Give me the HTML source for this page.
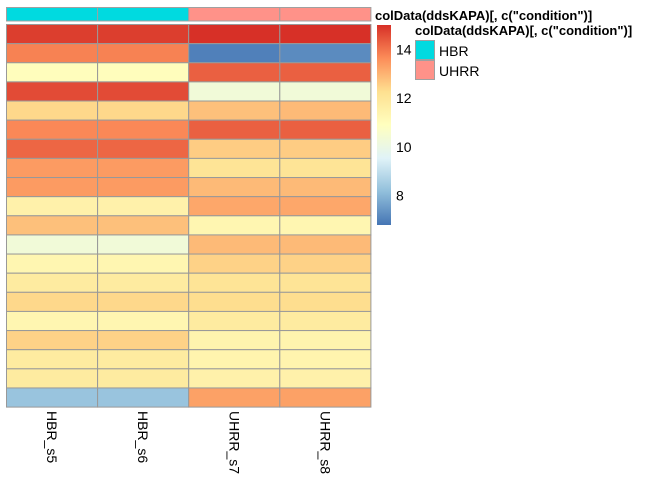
<!DOCTYPE html>
<html><head><meta charset="utf-8"><style>
body{margin:0;background:#fff;}
svg text{font-family:"Liberation Sans",sans-serif;}
</style></head><body>
<svg id="chart" width="672" height="480"></svg>
<script>
const samples = ["HBR_s5","HBR_s6","UHRR_s7","UHRR_s8"];
const conditions = ["HBR","HBR","UHRR","UHRR"];
const hbr5 = [14.8,13.8,11.0,14.6,12.4,13.7,14.2,13.4,13.4,11.5,12.8,10.3,11.3,11.8,12.4,11.3,12.5,11.8,11.8,8.3];
const hbr6 = [14.8,13.8,11.0,14.6,12.4,13.7,14.2,13.4,13.4,11.5,12.8,10.3,11.3,11.8,12.4,11.3,12.5,11.8,11.8,8.3];
const uhrr7 = [15.0,7.0,14.3,10.3,12.8,14.3,12.6,12.1,12.9,13.2,11.3,12.9,12.5,12.1,12.3,11.8,11.4,11.4,11.5,13.3];
const uhrr8 = [15.0,7.2,14.3,10.3,12.9,14.3,12.6,12.1,12.9,13.2,11.3,12.9,12.5,12.1,12.3,11.8,11.4,11.4,11.5,13.3];
const scaleTicks = [8,10,12,14];
const condColors = {HBR:"#00DAE0", UHRR:"#FF9289"};
const series = [hbr5,hbr6,uhrr7,uhrr8];
const vmin = 6.8, vmax = 15.0;
const stops = ["#4575B4","#91BFDB","#E0F3F8","#FFFFBF","#FEE090","#FC8D59","#D73027"];
function hex(c){return [1,3,5].map(i=>parseInt(c.substr(i,2),16));}
function colorOf(v){
  let t=(v-vmin)/(vmax-vmin); t=Math.max(0,Math.min(1,t))*(stops.length-1);
  let i=Math.min(Math.floor(t),stops.length-2), f=t-i;
  let a=hex(stops[i]), b=hex(stops[i+1]);
  return "rgb("+a.map((x,k)=>Math.round(x+(b[k]-x)*f)).join(",")+")";
}
const NS="http://www.w3.org/2000/svg";
const svg=document.getElementById("chart");
function el(tag,attrs,parent){const e=document.createElementNS(NS,tag);for(const k in attrs)e.setAttribute(k,attrs[k]);(parent||svg).appendChild(e);return e;}
const x0=6.5, cw=91.1, y0=24.5, rh=19.13;
const xPos=j=>x0+j*cw, yPos=i=>y0+i*rh;
samples.forEach((s,j)=>{
  const r=el("rect",{x:xPos(j),y:7.5,width:cw,height:13.5,fill:condColors[conditions[j]],stroke:"#a0a0a0","stroke-width":1});
  
  
});
series.forEach((arr,j)=>{
  arr.forEach((v,i)=>{
    const r=el("rect",{x:xPos(j),y:yPos(i),width:cw,height:rh,fill:colorOf(v),stroke:"#999999","stroke-width":1});
    
    
  });
});
samples.forEach((s,j)=>{
  const cx=xPos(j)+cw/2;
  const t=el("text",{x:0,y:0,"font-size":14,fill:"#000",transform:"translate("+(cx-5)+",411) rotate(90)"});
  t.textContent=s;
  
  
});
const cbTop=25, cbBot=225, cbX=377, cbW=14;
const defs=el("defs",{});
const lg=el("linearGradient",{id:"cb",x1:0,y1:1,x2:0,y2:0},defs);
stops.forEach((c,k)=>el("stop",{offset:k/(stops.length-1),"stop-color":c},lg));
const cb=el("rect",{x:cbX,y:cbTop,width:cbW,height:cbBot-cbTop,fill:"url(#cb)"});


const yScale=v=>cbBot-(v-vmin)/(vmax-vmin)*(cbBot-cbTop);
scaleTicks.forEach(v=>{
  const t=el("text",{x:396,y:yScale(v)+5,"font-size":14,fill:"#000"});
  t.textContent=v;
  
  
});
</script>
<svg width="672" height="480" style="position:absolute;left:0;top:0">
<text x="375" y="20" font-size="13" font-weight="bold">colData(ddsKAPA)[, c("condition")]</text>
<text x="415" y="35" font-size="13" font-weight="bold">colData(ddsKAPA)[, c("condition")]</text>
<rect x="415.5" y="40.5" width="19" height="19" fill="#00DAE0" stroke="#a0a0a0"/>
<rect x="415.5" y="60.5" width="19" height="19" fill="#FF9289" stroke="#a0a0a0"/>
<text x="439" y="56" font-size="14">HBR</text>
<text x="439" y="76" font-size="14">UHRR</text>
</svg>
</body></html>
